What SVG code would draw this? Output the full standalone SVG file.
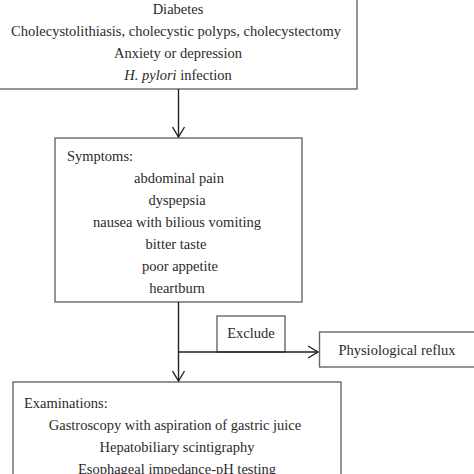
<svg xmlns="http://www.w3.org/2000/svg" width="474" height="474" viewBox="0 0 474 474">
<defs>
<style>
.box{fill:#fff;stroke:#666;stroke-width:1.4}
.t{font-family:"Liberation Serif",serif;font-size:14.5px;fill:#2a2a2a}
.c{text-anchor:middle}
.ln{fill:none;stroke:#222;stroke-width:1.4}
</style>
<marker id="ah" viewBox="0 0 12 14" refX="11" refY="7" markerWidth="12" markerHeight="14" markerUnits="userSpaceOnUse" orient="auto">
<path d="M1,1 L11,7 L1,13" fill="none" stroke="#222" stroke-width="1.4"/>
</marker>
</defs>
<rect width="474" height="474" fill="#fff"/>
<g id="risk-factors">
<rect class="box" x="-2" y="-2" width="359" height="91"/>
<text class="t c" x="178" y="13.5">Diabetes</text>
<text class="t c" x="176" y="35.5">Cholecystolithiasis, cholecystic polyps, cholecystectomy</text>
<text class="t c" x="178" y="57.5">Anxiety or depression</text>
<text class="t c" x="178" y="79.5"><tspan font-style="italic">H. pylori</tspan> infection</text>
</g>
<g id="symptoms">
<rect class="box" x="55" y="138" width="247" height="164"/>
<text class="t" x="67" y="161">Symptoms:</text>
<text class="t c" x="179" y="183">abdominal pain</text>
<text class="t c" x="177" y="205">dyspepsia</text>
<text class="t c" x="177" y="227">nausea with bilious vomiting</text>
<text class="t c" x="176" y="249">bitter taste</text>
<text class="t c" x="180" y="271">poor appetite</text>
<text class="t c" x="177" y="293">heartburn</text>
</g>
<g id="exclude">
<rect class="box" x="217" y="316" width="68" height="36"/>
<text class="t c" x="251" y="338">Exclude</text>
</g>
<g id="physiological-reflux">
<rect class="box" x="319.5" y="332" width="158" height="35"/>
<text class="t c" x="397" y="354.5">Physiological reflux</text>
</g>
<g id="examinations">
<rect class="box" x="13" y="382" width="328" height="100"/>
<text class="t" x="24" y="408">Examinations:</text>
<text class="t c" x="175" y="430">Gastroscopy with aspiration of gastric juice</text>
<text class="t c" x="177" y="452">Hepatobiliary scintigraphy</text>
<text class="t c" x="177" y="474">Esophageal impedance-pH testing</text>
</g>
<g id="connectors">
<line class="ln" x1="178.5" y1="89" x2="178.5" y2="137" marker-end="url(#ah)"/>
<line class="ln" x1="178.5" y1="302" x2="178.5" y2="381" marker-end="url(#ah)"/>
<line class="ln" x1="178.5" y1="352" x2="318" y2="352" marker-end="url(#ah)"/>
</g>
</svg>
